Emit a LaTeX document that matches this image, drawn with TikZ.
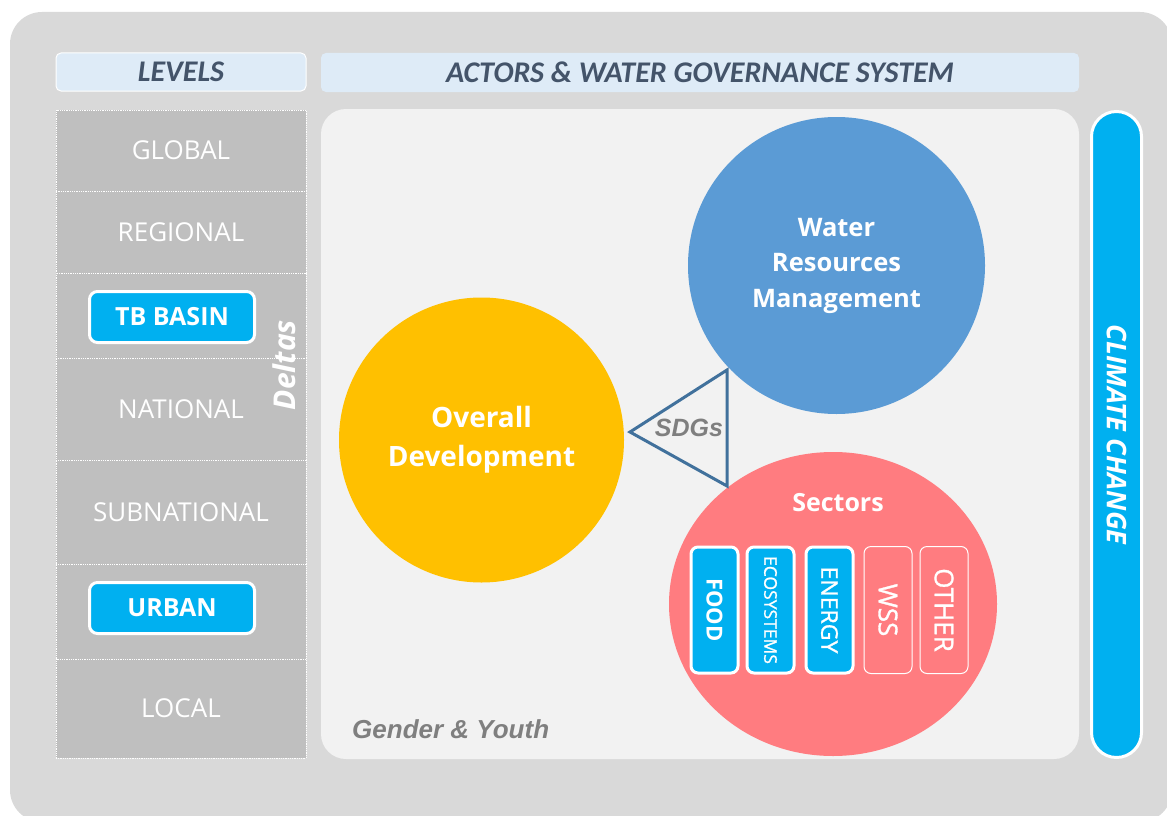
\documentclass[tikz,border=0pt]{standalone}
\usepackage{fontspec}
\setmainfont{Open Sans}
\newfontfamily\hdfont{Carlito}
\newfontfamily\arfont{Liberation Sans}
\newfontfamily\medfont[FakeBold=1.2]{Open Sans}
\usetikzlibrary{shapes.geometric}
\definecolor{bggray}{HTML}{D9D9D9}
\definecolor{panelgray}{HTML}{F2F2F2}
\definecolor{lvlgray}{HTML}{BFBFBF}
\definecolor{hdrblue}{HTML}{DEEBF7}
\definecolor{hdrtext}{HTML}{44546A}
\definecolor{cyanbtn}{HTML}{00B0F0}
\definecolor{devyellow}{HTML}{FFC000}
\definecolor{wrmblue}{HTML}{5B9BD5}
\definecolor{secpink}{HTML}{FF7C80}
\definecolor{sdgblue}{HTML}{41719C}
\definecolor{labgray}{HTML}{7F7F7F}
\tikzset{
    hdr/.style={fill=hdrblue, rounded corners=5pt, inner sep=0pt, text=hdrtext,
        font=\hdfont\bfseries\itshape\fontsize{30}{34}\selectfont},
    lvlrow/.style={fill=lvlgray, draw=white, densely dotted, line width=.8pt,
        minimum width=250pt, inner sep=0pt, text=white, font=\fontsize{26}{30}\selectfont},
    btn/.style={fill=cyanbtn, draw=white, line width=3pt, rounded corners=8pt,
        minimum width=165pt, minimum height=51pt, inner sep=0pt, text=white,
        font=\bfseries\fontsize{25}{28}\selectfont},
    bubble/.style={circle, inner sep=0pt, text=white, align=center},
    secon/.style={rotate=-90, fill=cyanbtn, draw=white, line width=3pt, rounded corners=7pt,
        minimum width=126pt, minimum height=47pt, inner sep=0pt, text=white},
    secoff/.style={rotate=-90, fill=secpink, draw=white, line width=1pt, rounded corners=7pt,
        minimum width=127pt, minimum height=48pt, inner sep=0pt, text=white},
    grylab/.style={inner sep=0pt, text=labgray, font=\arfont\bfseries\itshape\fontsize{26}{30}\selectfont}
}
\begin{document}
\begin{tikzpicture}[x=1pt, y=-1pt]
    \useasboundingbox (0,0) rectangle (1167,816);
    \clip (0,0) rectangle (1167,816);
    \fill[bggray, rounded corners=32pt] (10,12) rectangle (1172,822);
    \node[hdr, draw=white, line width=1pt, minimum width=250pt, minimum height=38pt] (levels) at (181,72) {LEVELS};
    \node[hdr, minimum width=758pt, minimum height=39pt] (actors) at (700,72.5) {ACTORS \& WATER GOVERNANCE SYSTEM};
    \foreach \a/\b/\t [count=\i] in {109/190/GLOBAL, 190/272/REGIONAL, 272/357/{}, 357/459/NATIONAL,
        459/563/SUBNATIONAL, 563/658/{}, 658/757/LOCAL}
    {
        \node[lvlrow, minimum height=\b-\a] (lv\i) at (181,{(\a+\b)/2+1}) {\t};
    }
    \node[btn] (tb) at (172,317) {TB BASIN};
    \node[btn] (urban) at (172,608) {URBAN};
    \node[rotate=90, text=white, font=\bfseries\itshape\fontsize{30}{32}\selectfont] (deltas) at (284,365) {Deltas};
    \fill[panelgray, rounded corners=25pt] (321,109) rectangle (1079,759);
    \node[rotate=-90, fill=cyanbtn, draw=white, line width=3pt, rounded corners=25pt,
        minimum width=646pt, minimum height=50pt, inner sep=0pt, text=white,
        font=\bfseries\itshape\fontsize{27}{30}\selectfont] (climate) at (1116.5,434.5) {CLIMATE CHANGE};
    \node[bubble, fill=devyellow, minimum size=285pt, font=\bfseries\fontsize{28}{39}\selectfont] (dev) at (481.5,440) {Overall\\Development};
    \node[bubble, fill=wrmblue, minimum size=297pt, font=\bfseries\fontsize{25.5}{35.5}\selectfont] (wrm) at (836.5,265.5) {Water\\Resources\\Management};
    \node[ellipse, fill=secpink, minimum width=328pt, minimum height=304pt, inner sep=0pt] (sec) at (833,604) {};
    \node[text=white, font=\bfseries\fontsize{25}{28}\selectfont] (sectors) at (838,503) {Sectors};
    \node[secon, font=\bfseries\fontsize{22}{24}\selectfont] (food) at (714.5,610) {FOOD};
    \node[secon, font=\medfont\fontsize{17.5}{19}\selectfont] (eco) at (770.5,610) {ECOSYSTEMS};
    \node[secon, font=\medfont\fontsize{23}{24}\selectfont] (energy) at (829.5,610) {ENERGY};
    \node[secoff, font=\medfont\fontsize{26}{28}\selectfont] (wss) at (888,610) {WSS};
    \node[secoff, font=\medfont\fontsize{26}{28}\selectfont] (other) at (944,610) {OTHER};
    \draw[sdgblue, line width=3pt] (630,432) -- (727,370) -- (727,486) -- cycle;
    \node[grylab, font=\arfont\bfseries\itshape\fontsize{25}{28}\selectfont] (sdg) at (689,428) {SDGs};
    \node[grylab, anchor=base west] (gender) at (352,738) {Gender \& Youth};
\end{tikzpicture}
\end{document}
